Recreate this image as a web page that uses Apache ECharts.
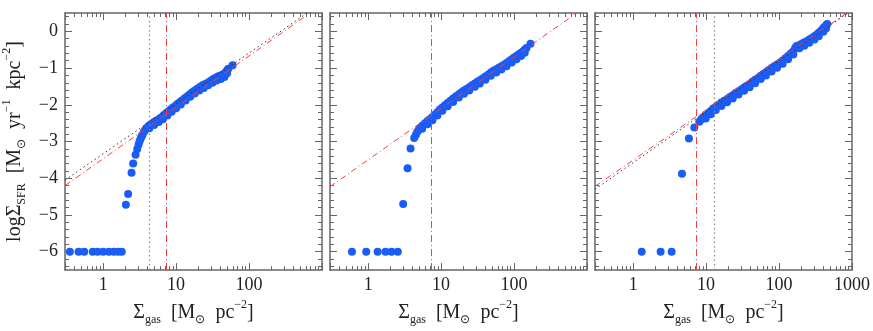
<!DOCTYPE html>
<html>
<head>
<meta charset="utf-8">
<script src="https://cdn.jsdelivr.net/npm/echarts@6/dist/echarts.min.js"></script>
<style>
  html, body { margin: 0; padding: 0; background: #fff; }
  #chart { width: 873px; height: 331px; }
</style>
</head>
<body>
<div id="chart"></div>
<script>
// axis ranges and ticks
var xMin = 0.3, xMax = 1000, yMin = -6.5, yMax = 0.5;
var xMinorTicks = [0.4,0.5,0.6,0.7,0.8,0.9,2,3,4,5,6,7,8,9,20,30,40,50,60,70,80,90,200,300,400,500,600,700,800,900];
var yMajorTicks = [-6,-5,-4,-3,-2,-1,0];
var yMinorTicks = [-6.4,-6.2,-5.8,-5.6,-5.4,-5.2,-4.8,-4.6,-4.4,-4.2,-3.8,-3.6,-3.4,-3.2,-2.8,-2.6,-2.4,-2.2,-1.8,-1.6,-1.4,-1.2,-0.8,-0.6,-0.4,-0.2,0.2,0.4];
var xLabels1 = ['1','10','100'];
var xLabels3 = ['1','10','100','1000'];

// floor points (log SFR = -6)
var floorSfr = -6;
var floor1 = [0.35,0.46,0.55,0.72,0.84,1.0,1.2,1.4,1.6,1.8];
var floor2 = [0.60,0.94,1.35,1.73,2.09,2.55];
var floor3 = [1.31,2.38,3.37];

// panel 1 : [gas, logSFR]
var points1 = [[2.05,-4.72],[2.2,-4.43],[2.45,-3.85],[2.58,-3.6],[2.78,-3.36],[2.93,-3.2],[3.06,-3.09],[3.15,-3.0],
  [3.25,-2.93],[3.35,-2.87],[3.45,-2.82],[3.6,-2.75],[3.75,-2.69],[3.9,-2.65],[4.1,-2.6],[4.3,-2.56],[4.5,-2.53],
  [4.75,-2.5],[5.0,-2.47],[5.3,-2.44],[5.6,-2.41],[6.0,-2.37],[6.4,-2.33],[6.8,-2.28],[7.3,-2.23],[7.8,-2.18],
  [8.4,-2.13],[9.0,-2.08],[9.7,-2.03],[10.4,-1.98],[11.2,-1.93],[12.0,-1.88],[13.0,-1.83],[14.0,-1.78],[15.0,-1.73],
  [16.2,-1.68],[17.4,-1.63],[18.7,-1.59],[20.0,-1.55],[21.5,-1.51],[23.0,-1.47],[24.7,-1.44],[26.5,-1.41],[28.5,-1.37],
  [30.5,-1.33],[32.7,-1.29],[35.0,-1.26],[37.5,-1.23],[40.0,-1.21],[42.5,-1.19],[45.0,-1.16],[47.5,-1.12],[50,-1.06],
  [52,-1.02],[59.4,-0.92]];
var lower1 = [[4.3,-2.64],[5.0,-2.55],[5.8,-2.47],[6.6,-2.39],[7.6,-2.29],[8.7,-2.19],[10,-2.09],[11.6,-1.99],
  [13.5,-1.88],[15.6,-1.78],[18,-1.69],[20.8,-1.61],[24,-1.54],[27.5,-1.47],[31.5,-1.4],[36,-1.34],[41,-1.3],
  [46,-1.24],[50,-1.14]];

// panel 2
var points2 = [[3.02,-4.70],[3.47,-3.73],[3.81,-3.19],[4.28,-2.90],[4.5,-2.82],[4.7,-2.74],[4.9,-2.69],[5.1,-2.64],
  [5.5,-2.57],[6.0,-2.50],[6.5,-2.44],[7.0,-2.39],[7.6,-2.33],[8.2,-2.27],[8.9,-2.2],[9.6,-2.13],[10.4,-2.07],
  [11.3,-2.01],[12.3,-1.95],[13.4,-1.89],[14.6,-1.83],[16,-1.77],[17.5,-1.71],[19,-1.66],[20.6,-1.61],[22.3,-1.57],
  [24.3,-1.52],[26.5,-1.47],[29,-1.42],[31.5,-1.37],[34,-1.33],[37,-1.28],[40.5,-1.23],[44,-1.18],[48,-1.12],
  [52,-1.07],[57,-1.03],[62,-0.99],[67,-0.95],[73,-0.91],[79,-0.86],[86,-0.81],[93,-0.76],[100,-0.71],[108,-0.67],
  [116,-0.62],[125,-0.58],[133,-0.54],[140,-0.5],[148,-0.45],[168,-0.34]];
var lower2 = [[5.5,-2.65],[6.5,-2.53],[7.6,-2.42],[8.9,-2.29],[10.4,-2.16],[12.3,-2.04],[14.6,-1.92],[17.5,-1.8],
  [20.6,-1.7],[24.3,-1.61],[29,-1.51],[34,-1.42],[40.5,-1.32],[48,-1.21],[57,-1.12],[67,-1.04],[79,-0.95],
  [93,-0.85],[108,-0.76],[125,-0.67],[140,-0.58]];

// panel 3
var points3 = [[4.67,-3.88],[5.82,-2.92],[6.89,-2.62],[8.06,-2.46],[8.6,-2.40],[9.15,-2.34],[9.9,-2.29],[10.7,-2.24],
  [11.6,-2.17],[12.5,-2.10],[13.6,-2.05],[14.8,-2.0],[16.2,-1.94],[17.7,-1.89],[19.4,-1.84],[21.2,-1.79],[23.2,-1.74],
  [25.4,-1.68],[27.8,-1.63],[30.4,-1.58],[33.2,-1.53],[36,-1.48],[39.5,-1.43],[43,-1.37],[47,-1.32],[51.5,-1.27],
  [56,-1.21],[60.8,-1.16],[66,-1.11],[72,-1.05],[79,-1.0],[86,-0.95],[94,-0.9],[103,-0.85],[112,-0.79],[122,-0.73],
  [133,-0.67],[145,-0.6],[157,-0.54],[166,-0.45],[174,-0.40],[190,-0.37],[207,-0.33],[222,-0.30],[239,-0.27],
  [260,-0.22],[282,-0.18],[305,-0.13],[327,-0.09],[350,-0.04],[376,0.02],[404,0.09],[425,0.13],[449,0.18],[457,0.20]];
var lower3 = [[9.9,-2.37],[11.6,-2.26],[13.6,-2.14],[16.2,-2.03],[19.4,-1.93],[23.2,-1.83],[27.8,-1.72],[33.2,-1.62],
  [39.5,-1.52],[47,-1.41],[56,-1.3],[66,-1.2],[79,-1.09],[94,-0.99],[112,-0.88],[133,-0.76],[157,-0.63],[190,-0.46],
  [222,-0.39],[260,-0.31],[305,-0.22],[350,-0.13],[404,-0.01],[440,0.08]];

// fit lines, end points at the axis limits
var redFit1 = [[0.3,-4.20],[1000,0.73]];
var blackFit1 = [[0.3,-4.05],[1000,0.78]];
var redFit2 = [[0.3,-4.23],[1000,0.70]];
var redFit3 = [[0.3,-4.22],[1000,0.60]];
var blackFit3 = [[0.3,-4.30],[1000,0.58]];

// vertical thresholds
var redCut = [7.3, 7.3, 7.3];
var grayCut = [4.23, null, 12.8];

var gridLeft = [65, 330, 595];
var axisColor = '#666';
var dotColor = '#1a5cf6';
var font = 'Liberation Serif';

function floorPts(list) {
    return list.map(function (g) { return [g, floorSfr]; });
}

var panels = [
    { pts: floorPts(floor1).concat(points1, lower1), red: redFit1, black: blackFit1, labels: xLabels1 },
    { pts: floorPts(floor2).concat(points2, lower2), red: redFit2, black: null, labels: xLabels1 },
    { pts: floorPts(floor3).concat(points3, lower3), red: redFit3, black: blackFit3, labels: xLabels3 }
];

var richText = {
    t: { fontFamily: font, fontSize: 20, color: '#222', lineHeight: 27 },
    s: { fontFamily: font, fontSize: 12, color: '#222', verticalAlign: 'bottom' },
    p: { fontFamily: font, fontSize: 12, color: '#222', verticalAlign: 'top' }
};

var grids = [], xAxes = [], yAxes = [], series = [];

panels.forEach(function (p, i) {
    grids.push({ left: gridLeft[i], top: 13, width: 257, height: 261 });
    var xBase = {
        gridIndex: i, type: 'log', logBase: 10, min: xMin, max: xMax,
        splitLine: { show: false },
        axisLine: { show: true, onZero: false, lineStyle: { color: axisColor, width: 1.5 } },
        axisTick: { show: true, inside: true, length: 7, lineStyle: { color: axisColor } }
    };
    // bottom major with labels
    xAxes.push(echarts.util.merge({
        position: 'bottom',
        name: '{t|Σ}{s|gas}{t|  [M}{s|⊙}{t|  pc}{p|−2}{t|]}',
        nameLocation: 'middle', nameGap: 25,
        nameTextStyle: { rich: richText },
        axisLabel: {
            show: true, margin: 6, fontFamily: font, fontSize: 18, color: '#222', showMaxLabel: true,
            formatter: function (v) {
                var s = String(Math.round(v));
                return (Math.abs(v - Math.round(v)) < 1e-6 && p.labels.indexOf(s) >= 0) ? s : '';
            }
        }
    }, xBase, true));
    // top major
    xAxes.push(echarts.util.merge({ position: 'top', axisLabel: { show: false } }, xBase, true));
    // minor ticks, in log10 units
    var xMinor = {
        gridIndex: i, type: 'value', min: Math.log10(xMin), max: Math.log10(xMax),
        splitLine: { show: false }, axisLabel: { show: false },
        axisLine: { show: false, onZero: false },
        axisTick: { show: true, inside: true, length: 4, customValues: xMinorTicks.map(Math.log10), lineStyle: { color: axisColor } }
    };
    xAxes.push(echarts.util.merge({ position: 'bottom' }, xMinor, true));
    xAxes.push(echarts.util.merge({ position: 'top' }, xMinor, true));

    var yBase = {
        gridIndex: i, type: 'value', min: yMin, max: yMax,
        splitLine: { show: false },
        axisLine: { show: true, onZero: false, lineStyle: { color: axisColor, width: 1.5 } },
        axisTick: { show: true, inside: true, length: 7, customValues: yMajorTicks, lineStyle: { color: axisColor } }
    };
    var yLeft = {
        position: 'left',
        axisLabel: {
            show: i === 0, customValues: yMajorTicks, margin: 7, fontFamily: font, fontSize: 18, color: '#222',
            formatter: function (v) { return String(v).replace('-', '\u2212'); }
        }
    };
    if (i === 0) {
        yLeft.name = '{t|logΣ}{s|SFR}{t|  [M}{s|⊙}{t|  yr}{p|−1}{t|  kpc}{p|−2}{t|]}';
        yLeft.nameLocation = 'middle';
        yLeft.nameRotate = 90;
        yLeft.nameGap = 37;
        yLeft.nameTextStyle = { rich: richText };
    }
    yAxes.push(echarts.util.merge(yLeft, yBase, true));
    yAxes.push(echarts.util.merge({ position: 'right', axisLabel: { show: false } }, yBase, true));
    var yMinor = {
        gridIndex: i, type: 'value', min: yMin, max: yMax,
        splitLine: { show: false }, axisLabel: { show: false },
        axisLine: { show: false, onZero: false },
        axisTick: { show: true, inside: true, length: 4, customValues: yMinorTicks, lineStyle: { color: axisColor } }
    };
    yAxes.push(echarts.util.merge({ position: 'left' }, yMinor, true));
    yAxes.push(echarts.util.merge({ position: 'right' }, yMinor, true));

    var xi = i * 4, yi = i * 4;
    series.push({
        type: 'scatter', xAxisIndex: xi, yAxisIndex: yi, data: p.pts,
        symbolSize: 8, itemStyle: { color: dotColor, opacity: 1 }, z: 2, silent: true
    });
    var vLines = [{ xAxis: redCut[i], lineStyle: { color: '#ff3a3a', type: [7, 3, 1, 3], width: 1 } }];
    if (grayCut[i] != null) {
        vLines.push({ xAxis: grayCut[i], lineStyle: { color: '#888', type: [1.5, 3], width: 1.2 } });
    }
    series.push({
        type: 'line', xAxisIndex: xi, yAxisIndex: yi, data: p.red, symbol: 'none', z: 3, silent: true,
        lineStyle: { color: '#ff3a3a', type: [6, 3, 1, 3], width: 1 },
        markLine: { silent: true, symbol: 'none', label: { show: false }, animation: false, data: vLines }
    });
    if (p.black) {
        series.push({
            type: 'line', xAxisIndex: xi, yAxisIndex: yi, data: p.black, symbol: 'none', z: 3, silent: true,
            lineStyle: { color: '#333', type: [1.5, 3], width: 1 }
        });
    }
});

var myChart = echarts.init(document.getElementById('chart'));
myChart.setOption({
    animation: false,
    backgroundColor: '#fff',
    grid: grids,
    xAxis: xAxes,
    yAxis: yAxes,
    series: series
});
</script>
</body>
</html>
